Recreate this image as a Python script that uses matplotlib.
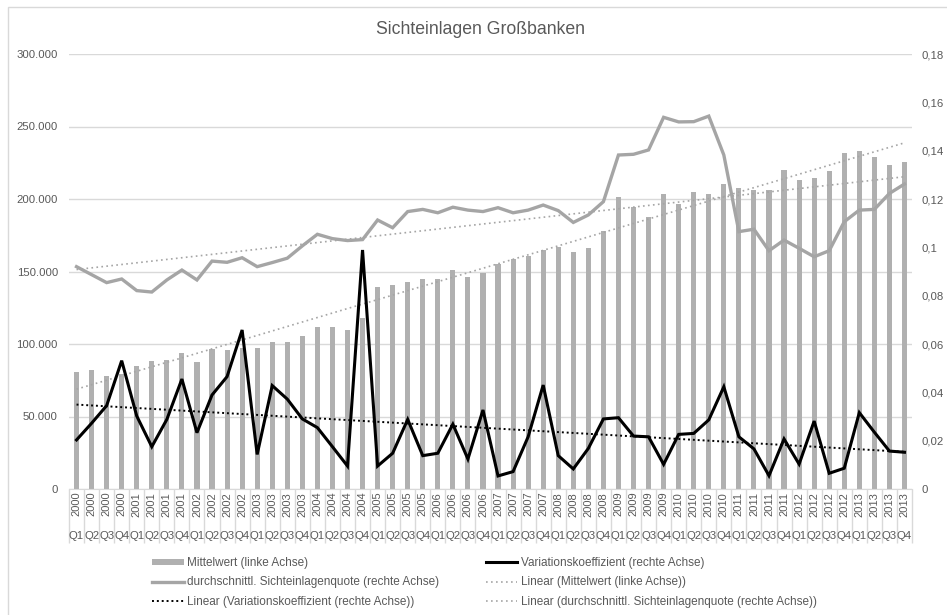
import numpy as np
import matplotlib
matplotlib.use('Agg')
import matplotlib.pyplot as plt
from matplotlib.patches import Patch, Rectangle
from matplotlib.lines import Line2D
from matplotlib.ticker import FuncFormatter

plt.rcParams['font.family'] = ['Liberation Sans', 'DejaVu Sans']

years = [str(y) for y in range(2000, 2014) for _ in range(4)]
quarters = ['Q1', 'Q2', 'Q3', 'Q4'] * 14

# Mittelwert (linke Achse)
mittelwert = [80500, 82000, 78000, 79000, 84800, 88300, 89000, 93600,
              87400, 96300, 95900, 97000, 97000, 101600, 101200, 105500,
              112000, 112000, 109700, 118000, 139100, 140700, 142500, 144800,
              144800, 151000, 146400, 148700, 155000, 158600, 160900, 164800,
              167100, 163700, 166000, 177900, 201200, 194700, 187800, 203400,
              196600, 205000, 203400, 210300, 207600, 206200, 206200, 220000,
              213100, 214300, 219300, 231500, 232900, 228800, 223700, 225300]

# Variationskoeffizient (rechte Achse)
variation = [0.0203, 0.0272, 0.0345, 0.0531, 0.0302, 0.0175, 0.0288, 0.0455,
             0.0233, 0.0389, 0.0465, 0.0658, 0.0143, 0.0428, 0.0372, 0.0290,
             0.0254, 0.0175, 0.0095, 0.0989, 0.0095, 0.0148, 0.0288, 0.0138,
             0.0148, 0.0268, 0.0124, 0.0327, 0.0054, 0.0072, 0.0216, 0.0430,
             0.0138, 0.0083, 0.0168, 0.0290, 0.0295, 0.0219, 0.0216, 0.0102,
             0.0226, 0.0230, 0.0286, 0.0423, 0.0216, 0.0166, 0.0055, 0.0207,
             0.0103, 0.0281, 0.0065, 0.0086, 0.0316, 0.0235, 0.0157, 0.0152]

# durchschnittl. Sichteinlagenquote (rechte Achse)
quote = [0.0920, 0.0887, 0.0854, 0.0869, 0.0821, 0.0815, 0.0865, 0.0906,
         0.0865, 0.0943, 0.0938, 0.0957, 0.0920, 0.0937, 0.0955, 0.1006,
         0.1054, 0.1036, 0.1028, 0.1032, 0.1113, 0.1081, 0.1148, 0.1157,
         0.1143, 0.1166, 0.1154, 0.1148, 0.1164, 0.1143, 0.1154, 0.1175,
         0.1152, 0.1103, 0.1134, 0.1189, 0.1382, 0.1385, 0.1403, 0.1538,
         0.1519, 0.1520, 0.1543, 0.1382, 0.1065, 0.1075, 0.0986, 0.1030,
         0.0996, 0.0961, 0.0986, 0.1106, 0.1154, 0.1157, 0.1223, 0.1262]

x = np.arange(len(years))

def trend(vals):
    k, d = np.polyfit(x, vals, 1)
    return k * x + d

txt_color = '#595959'
grid_color = '#d9d9d9'
bar_color = '#b0b0b0'
line_grey = '#a5a5a5'

fig = plt.figure(figsize=(9.47, 6.15), dpi=100)
ax = fig.add_axes([69 / 947, 1 - 489 / 615, 843 / 947, 435 / 615])
ax2 = ax.twinx()

ax.set_axisbelow(True)
ax.grid(axis='y', color=grid_color, linewidth=1)
ax.bar(x, mittelwert, width=0.34, color=bar_color, zorder=2)
ax.plot(x, trend(mittelwert), color=line_grey, linestyle=(0, (1, 2)), linewidth=1.2, zorder=3)
ax.set_xlim(-0.5, len(x) - 0.5)
ax.set_ylim(0, 300000)
ax.set_yticks(np.arange(0, 300001, 50000))
ax.yaxis.set_major_formatter(FuncFormatter(lambda v, p: f'{int(v):,}'.replace(',', '.')))

ax2.plot(x, quote, color=line_grey, linewidth=2.4, solid_joinstyle='miter')
ax2.plot(x, variation, color='black', linewidth=2.2, solid_joinstyle='miter')
ax2.plot(x, trend(variation), color='black', linestyle=(0, (1, 1.5)), linewidth=1.4)
ax2.plot(x, trend(quote), color=line_grey, linestyle=(0, (1, 2)), linewidth=1.2)
ax2.set_ylim(0, 0.18)
ax2.set_yticks(np.arange(0, 0.1801, 0.02))
ax2.yaxis.set_major_formatter(FuncFormatter(lambda v, p: ('%g' % round(v, 2)).replace('.', ',')))

for a in (ax, ax2):
    for s in a.spines.values():
        s.set_visible(False)
ax.spines['bottom'].set_visible(True)
ax.spines['bottom'].set_color(grid_color)

ax.tick_params(axis='y', length=0, pad=8, labelsize=8.2, labelcolor=txt_color)
ax2.tick_params(axis='y', length=0, pad=7, labelsize=8.2, labelcolor=txt_color)

# year labels (rotated) with separator boxes
ax.set_xticks(x)
ax.set_xticklabels(years, rotation=90, fontsize=8, color=txt_color)
ax.tick_params(axis='x', which='major', length=0, pad=2)
ax.set_xticks(np.arange(-0.5, len(x), 1), minor=True)
ax.tick_params(axis='x', which='minor', length=39, color=grid_color, width=1)

# quarter labels below
for xi, q in zip(x, quarters):
    ax.text(xi, -0.108, q, transform=ax.get_xaxis_transform(), ha='center', va='center',
            fontsize=8.2, color=txt_color)

fig.text(481 / 947, 1 - 29 / 615, 'Sichteinlagen Großbanken', ha='center', va='center',
         fontsize=12.7, color=txt_color)

handles = [
    Patch(facecolor=bar_color, edgecolor='none'),
    Line2D([], [], color=line_grey, linewidth=2.4),
    Line2D([], [], color='black', linestyle=(0, (1, 1.5)), linewidth=1.4),
    Line2D([], [], color='black', linewidth=2.2),
    Line2D([], [], color=line_grey, linestyle=(0, (1, 2)), linewidth=1.2),
    Line2D([], [], color=line_grey, linestyle=(0, (1, 2)), linewidth=1.2),
]
labels = [
    'Mittelwert (linke Achse)',
    'durchschnittl. Sichteinlagenquote (rechte Achse)',
    'Linear (Variationskoeffizient (rechte Achse))',
    'Variationskoeffizient (rechte Achse)',
    'Linear (Mittelwert (linke Achse))',
    'Linear (durchschnittl. Sichteinlagenquote (rechte Achse))',
]
leg = fig.legend(handles, labels, ncol=2, loc='upper left',
                 bbox_to_anchor=(152 / 947, 1 - 557 / 615), frameon=False,
                 fontsize=8.5, handlelength=2.7, handleheight=0.45, handletextpad=0.3,
                 columnspacing=3.9, labelspacing=0.62, borderpad=0, borderaxespad=0)
for t in leg.get_texts():
    t.set_color(txt_color)

fig.patches.append(Rectangle((8 / 947, -0.1), 1.2, 1 - 7 / 615 + 0.1, transform=fig.transFigure,
                             fill=False, edgecolor=grid_color, linewidth=1))

fig.savefig('out.png', dpi=100)
